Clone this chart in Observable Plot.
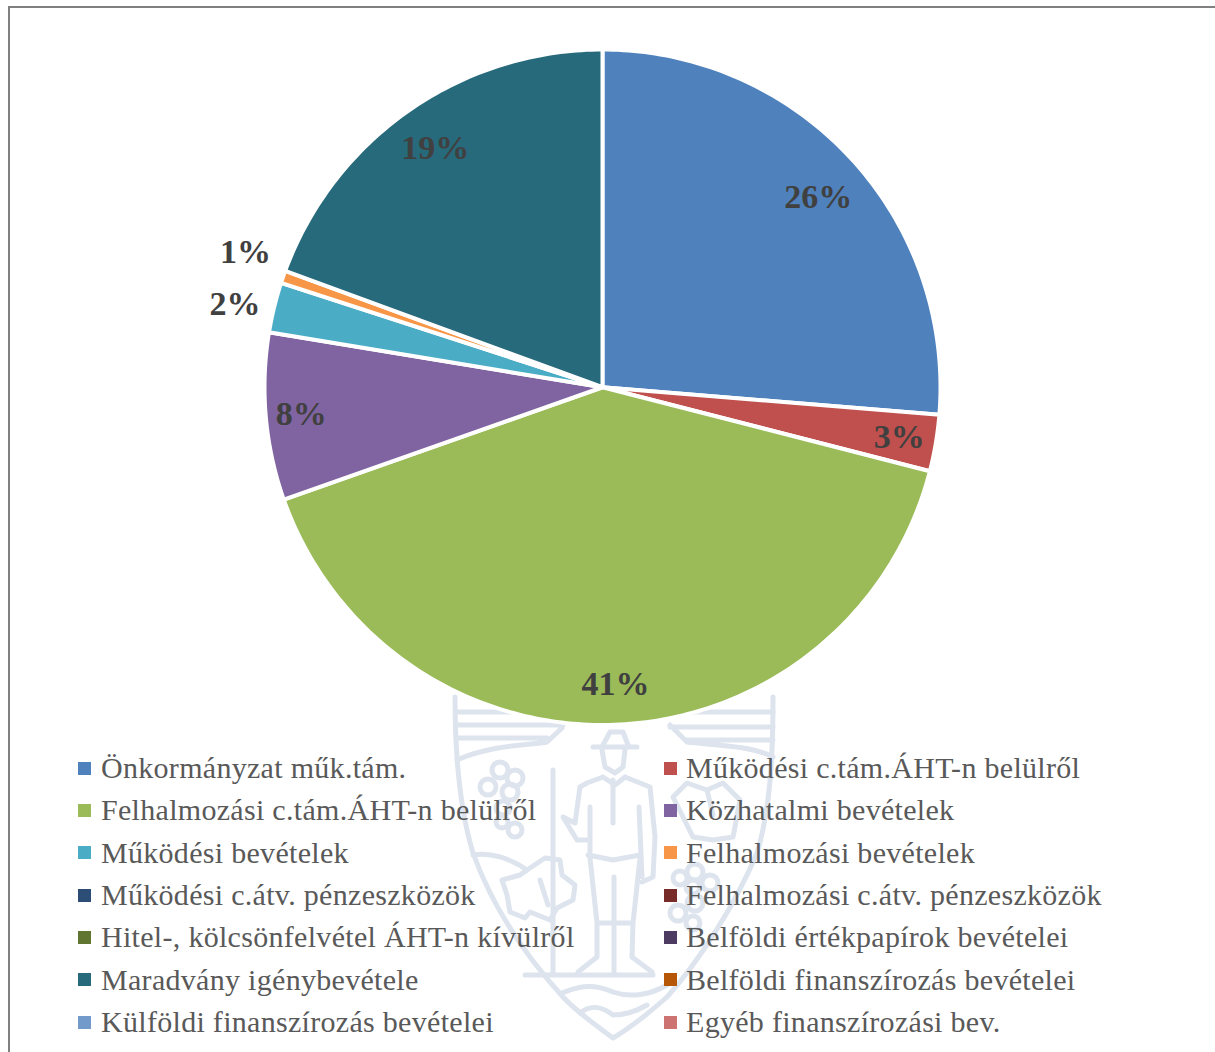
<!DOCTYPE html>
<html lang="hu">
<head>
<meta charset="utf-8">
<script src="https://cdn.jsdelivr.net/npm/d3@7"></script>
<script src="https://cdn.jsdelivr.net/npm/@observablehq/plot@0.6"></script>
<style>
html,body{margin:0;padding:0;background:#fff;}
#page{position:relative;width:1215px;height:1052px;overflow:hidden;font-family:"Liberation Serif",serif;}
#frame{position:absolute;left:8px;top:6px;width:1220px;height:1060px;border:2px solid #808080;box-sizing:border-box;}
#crest{position:absolute;left:0;top:0;}
#chart{position:absolute;left:0;top:0;}
#legend{position:absolute;left:0;top:0;width:1215px;height:1052px;}
.item{position:absolute;color:#595959;font-size:30px;line-height:42px;white-space:nowrap;letter-spacing:.3px;}
.sw{position:absolute;width:13px;height:13px;}
</style>
</head>
<body>
<div id="page">
<div id="frame"></div>
<svg id="crest" width="1215" height="1052" fill="none" stroke="#dde4ee" stroke-width="5" stroke-linejoin="round" stroke-linecap="round">
  <path d="M455 697C455 760 460 810 473 853C490 900 520 950 563 997C580 1015 600 1028 613 1038C630 1028 650 1012 667 997C700 960 735 905 757 853C770 810 773 760 773 697"/>
  <path d="M457 712H555M457 725H563M457 738H547M457 760C490 745 530 745 547 742L562 728"/>
  <path d="M673 712H773M670 727H773M687 740H773M773 757C750 745 710 745 687 742L670 725"/>
  <path d="M593 747H637M603 745L610 732H623L628 745M602 750L605 767L615 773L623 767L625 750"/>
  <path d="M603 777L615 785L625 777M580 787L587 783L603 777M625 777L650 787L655 837L653 877L642 882M580 787L575 823L563 817L577 840H588"/>
  <path d="M590 807V857M639 807L642 877M588 855L613 860L640 855M613 780V823"/>
  <path d="M590 858L597 923V957L578 972M640 858L633 923L632 957L652 972M614 877V973M597 923H633"/>
  <path d="M553 770V975M525 975H653M562 993C575 988 590 982 613 992C630 998 650 995 667 985M580 1013C590 1005 600 1005 613 1015C625 1015 635 1012 647 1005"/>
  <path d="M473 855C490 852 510 858 527 870"/>
  <path d="M502 880L520 875L527 870L545 858L560 860L562 875L575 885L573 900L557 908L550 920L530 912L525 918L510 912L507 895ZM540 880L548 905"/>
  <path d="M673 797L687 783L707 790L723 783L740 800L733 837L713 840L693 837L683 817ZM707 790L713 815"/>
  <circle cx="500" cy="770" r="8"/><circle cx="515" cy="778" r="8"/><circle cx="488" cy="787" r="8"/><circle cx="510" cy="792" r="8"/><circle cx="503" cy="808" r="7"/><circle cx="502" cy="822" r="6"/><circle cx="515" cy="830" r="7"/>
  <circle cx="695" cy="872" r="8"/><circle cx="680" cy="878" r="7"/><circle cx="710" cy="883" r="8"/><circle cx="693" cy="887" r="7"/><circle cx="678" cy="913" r="8"/><circle cx="695" cy="903" r="8"/><circle cx="693" cy="923" r="7"/>
</svg>
<div id="chart"></div>
<div id="legend"></div>
</div>
<script>
const categories = [
  "Önkormányzat műk.tám.",
  "Működési c.tám.ÁHT-n belülről",
  "Felhalmozási c.tám.ÁHT-n belülről",
  "Közhatalmi bevételek",
  "Működési bevételek",
  "Felhalmozási bevételek",
  "Működési c.átv. pénzeszközök",
  "Felhalmozási c.átv. pénzeszközök",
  "Hitel-, kölcsönfelvétel ÁHT-n kívülről",
  "Belföldi értékpapírok bevételei",
  "Maradvány igénybevétele",
  "Belföldi finanszírozás bevételei",
  "Külföldi finanszírozás bevételei",
  "Egyéb finanszírozási bev."
];
const shares = [26.3, 2.7, 40.6, 8.0, 2.4, 0.6, 0, 0, 0, 0, 19.4, 0, 0, 0];
const colors = ["#4f81bd","#c0504d","#9bbb59","#8064a2","#4bacc6","#f79646","#2c4d75","#772c2a","#5f7530","#4d3b62","#276a7c","#b65708","#729aca","#cd7371"];
// Label placement per slice, as a fraction of the radius and a small turn in degrees.
const labelRadius = [0.85, 0.89, 0.88, 0.895, 1.115, 1.13, 0, 0, 0, 0, 0.865, 0, 0, 0];
const labelTurn = [1.3, 0, 0, 0, -0.9, 1.7, 0, 0, 0, 0, 0, 0, 0, 0];

// Slices: each non-zero share becomes a closed polygon on the x/y scales.
const total = d3.sum(shares);
const outline = [];
const labels = [];
let cum = 0;
categories.forEach((category, i) => {
  const share = shares[i];
  if (share === 0) return;
  const a0 = cum / total * 2 * Math.PI;
  const a1 = (cum + share) / total * 2 * Math.PI;
  outline.push({category, px: 0, py: 0});
  const steps = Math.max(2, Math.ceil(share * 4));
  for (let k = 0; k <= steps; k++) {
    const a = a0 + (a1 - a0) * k / steps;
    outline.push({category, px: Math.sin(a), py: Math.cos(a)});
  }
  const mid = (a0 + a1) / 2 + labelTurn[i] * Math.PI / 180;
  const r = labelRadius[i];
  labels.push({label: Math.max(1, Math.round(share)) + "%", px: r * Math.sin(mid), py: r * Math.cos(mid)});
  cum += share;
});

const plot = Plot.plot({
  width: 1215,
  height: 750,
  margin: 0,
  style: {background: "transparent", overflow: "visible"},
  x: {domain: [-1, 1], range: [264, 940], axis: null},
  y: {domain: [-1, 1], range: [724.5, 49], axis: null},
  color: {domain: categories, range: colors},
  marks: [
    Plot.line(outline, {x: "px", y: "py", z: "category", fill: "category", stroke: "white", strokeWidth: 4, curve: "linear-closed"}),
    Plot.text(labels, {x: "px", y: "py", text: "label", fontSize: 34, fontWeight: "bold", fontFamily: "Liberation Serif", fill: "#404040"})
  ]
});
document.getElementById("chart").append(plot);

// Two-column legend over the pie's foot.
const legend = d3.select("#legend");
categories.forEach((c, i) => {
  const col = i % 2, row = Math.floor(i / 2);
  const cy = 768 + row * 42.35;
  legend.append("div").attr("class", "sw")
    .style("left", (col ? 664 : 78) + "px").style("top", (cy - 6.5) + "px").style("background", colors[i]);
  legend.append("div").attr("class", "item")
    .style("left", (col ? 686 : 101) + "px").style("top", (cy - 21) + "px").text(c);
});
</script>
</body>
</html>
